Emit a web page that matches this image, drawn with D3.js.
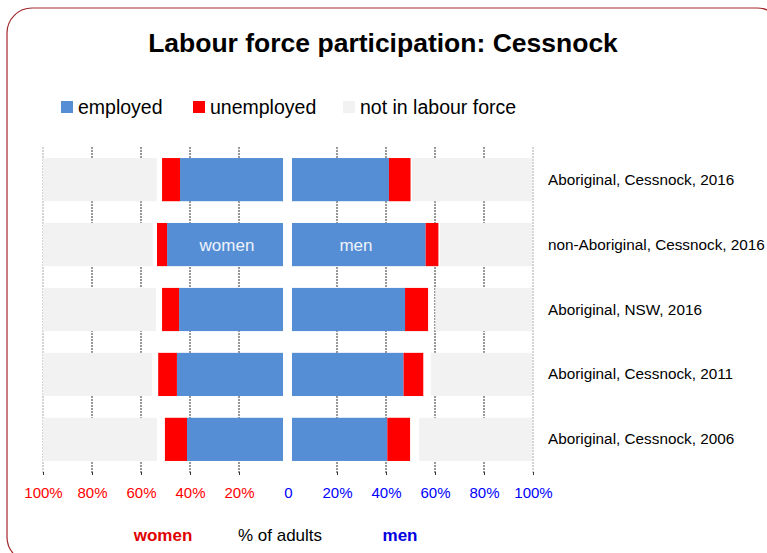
<!DOCTYPE html>
<html>
<head>
<meta charset="utf-8">
<script src="https://cdn.jsdelivr.net/npm/d3@7"></script>
<style>
  body { margin: 0; background: #fff; }
  text { font-family: "Liberation Sans", Arial, sans-serif; }
</style>
</head>
<body>
<div id="chart"></div>
<script>
// Data (percent of adults)
const categories = ['Aboriginal, Cessnock, 2016', 'non-Aboriginal, Cessnock, 2016',
  'Aboriginal, NSW, 2016', 'Aboriginal, Cessnock, 2011', 'Aboriginal, Cessnock, 2006']
const womenEmployed = [42.9, 48.3, 43.3, 44.2, 40.0]
const womenUnemployed = [7.5, 4.2, 7.1, 7.8, 9.2]
const womenNotInLF = [47.4, 45.8, 47.1, 45.4, 47.5]
const menEmployed = [40.4, 55.7, 47.1, 46.5, 39.7]
const menUnemployed = [9.0, 5.3, 9.6, 8.2, 9.5]
const menNotInLF = [50.0, 38.3, 40.3, 42.2, 47.0]
const tickValues = [-100, -80, -60, -40, -20, 0, 20, 40, 60, 80, 100]
const legendItems = ['employed', 'unemployed', 'not in labour force']

const width = 767, height = 553
const colors = { employed: '#558ed5', unemployed: '#ff0000', notStated: 'none', notInLF: '#f2f2f2' }
const keys = ['employed', 'unemployed', 'notStated', 'notInLF']

const svg = d3.select('#chart').append('svg')
  .attr('width', width).attr('height', height)

// frame
svg.append('rect')
  .attr('x', 7).attr('y', 8).attr('width', 775).attr('height', 554)
  .attr('rx', 25).attr('fill', 'none').attr('stroke', '#a3282b').attr('stroke-width', 1.2)

// title
svg.append('text')
  .attr('x', 383).attr('y', 52).attr('text-anchor', 'middle')
  .attr('font-size', 26.5).attr('font-weight', 'bold')
  .text('Labour force participation: Cessnock')

// legend
const legendX = [61, 193, 343]
const legendColor = [colors.employed, colors.unemployed, colors.notInLF]
legendItems.forEach((d, i) => {
  svg.append('rect').attr('x', legendX[i]).attr('y', 101).attr('width', 12).attr('height', 12)
    .attr('fill', legendColor[i])
  svg.append('text').attr('x', legendX[i] + 17).attr('y', 114)
    .attr('font-size', 19.5).text(d)
})

// scales
const y = d3.scaleBand().domain(categories).range([147, 472]).paddingInner(0.335).paddingOuter(0.17)
const xAxis = d3.scaleLinear().domain([-100, 100]).range([43, 533])
const xWomen = d3.scaleLinear().domain([0, 100]).range([283, 43])
const xMen = d3.scaleLinear().domain([0, 100]).range([292, 532])

// gridlines (no line at 0)
svg.append('g').selectAll('line')
  .data(tickValues.filter(d => d !== 0))
  .join('line')
  .attr('x1', d => xAxis(d)).attr('x2', d => xAxis(d))
  .attr('y1', 147).attr('y2', 474)
  .attr('stroke', d => Math.abs(d) === 100 ? '#aaa' : '#333')
  .attr('stroke-width', 1)
  .attr('stroke-dasharray', '2,1')

// rows for stacking
const rows = (emp, unemp, nilf) => categories.map((c, i) => ({
  cat: c, employed: emp[i], unemployed: unemp[i], notInLF: nilf[i],
  notStated: Math.max(0, 100 - emp[i] - unemp[i] - nilf[i])
}))
const stack = d3.stack().keys(keys)

const drawSide = (data, xs) => {
  const series = stack(data)
  svg.append('g').selectAll('g')
    .data(series.filter(s => s.key !== 'notStated'))
    .join('g')
    .attr('fill', s => colors[s.key])
    .selectAll('rect')
    .data(s => s)
    .join('rect')
    .attr('x', d => Math.min(xs(d[0]), xs(d[1])))
    .attr('width', d => Math.abs(xs(d[1]) - xs(d[0])))
    .attr('y', d => y(d.data.cat))
    .attr('height', y.bandwidth())
}
drawSide(rows(womenEmployed, womenUnemployed, womenNotInLF), xWomen)
drawSide(rows(menEmployed, menUnemployed, menNotInLF), xMen)

// in-bar labels
svg.append('text').attr('x', 227).attr('y', y(categories[1]) + y.bandwidth() / 2 + 6)
  .attr('text-anchor', 'middle').attr('font-size', 17).attr('fill', '#eef3fb').text('women')
svg.append('text').attr('x', 356).attr('y', y(categories[1]) + y.bandwidth() / 2 + 6)
  .attr('text-anchor', 'middle').attr('font-size', 17).attr('fill', '#eef3fb').text('men')

// category labels
svg.append('g').selectAll('text')
  .data(categories)
  .join('text')
  .attr('x', 548).attr('y', d => y(d) + y.bandwidth() / 2 + 5)
  .attr('font-size', 15.3).text(d => d)

// bottom axis ticks + labels
const axis = svg.append('g').attr('transform', 'translate(0,472)')
  .call(d3.axisBottom(xAxis).tickValues(tickValues).tickSize(3)
    .tickFormat(d => d === 0 ? '0' : Math.abs(d) + '%'))
axis.select('.domain').remove()
axis.selectAll('.tick line').attr('stroke', d => d === 0 ? 'none' : '#333')
axis.selectAll('.tick text')
  .attr('font-size', 15).attr('dy', 0).attr('y', 26)
  .attr('font-family', '"Liberation Sans", Arial, sans-serif')
  .attr('fill', d => d < 0 ? '#ff0000' : '#0000ff')

// bottom titles
svg.append('text').attr('x', 163).attr('y', 541).attr('text-anchor', 'middle')
  .attr('font-size', 17).attr('font-weight', 'bold').attr('fill', '#e00000').text('women')
svg.append('text').attr('x', 280).attr('y', 541).attr('text-anchor', 'middle')
  .attr('font-size', 17).text('% of adults')
svg.append('text').attr('x', 400).attr('y', 541).attr('text-anchor', 'middle')
  .attr('font-size', 17).attr('font-weight', 'bold').attr('fill', '#0000e0').text('men')
</script>
</body>
</html>
